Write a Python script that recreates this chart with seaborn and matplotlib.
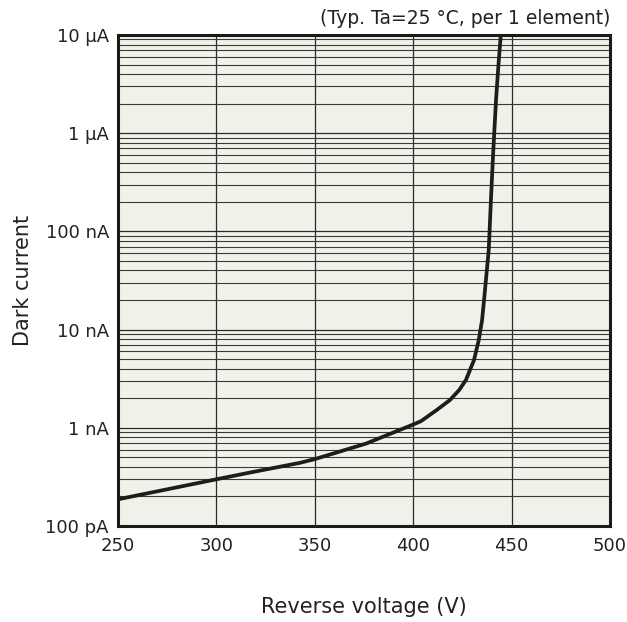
import numpy as np
import pandas as pd
import matplotlib
matplotlib.use('Agg')
import matplotlib.pyplot as plt
import seaborn as sns
from matplotlib.ticker import LogLocator, NullFormatter

# dark current vs reverse voltage
voltage = [250, 300, 317, 342.5, 350, 376, 400, 404, 412, 418.7, 423.4, 426.8,
           430.9, 433.3, 435.0, 436.0, 438.4, 439.5, 440.7, 442.1, 443.3, 444.5]
current = [1.87e-10, 2.99e-10, 3.5e-10, 4.4e-10, 4.8e-10, 6.9e-10, 1.08e-9,
           1.17e-9, 1.52e-9, 1.92e-9, 2.43e-9, 3.07e-9, 4.9e-9, 7.8e-9,
           1.25e-8, 2.0e-8, 6.5e-8, 2.1e-7, 6.7e-7, 2.2e-6, 4.9e-6, 1e-5]

x_ticks = [250, 300, 350, 400, 450, 500]
y_ticks = [1e-10, 1e-9, 1e-8, 1e-7, 1e-6, 1e-5]
y_labels = ['100 pA', '1 nA', '10 nA', '100 nA', '1 µA', '10 µA']

df = pd.DataFrame({'Voltage': voltage, 'Current': current})

sns.set_style('white')
plt.rcParams['font.family'] = ['DejaVu Sans']

fig = plt.figure(figsize=(6.27, 6.22), dpi=100)
ax = fig.add_axes([118/627, 96/622, 492/627, 491/622])
ax.set_facecolor('#f2f1e9')

sns.lineplot(data=df, x='Voltage', y='Current', ax=ax, color='#1e1c1c',
             linewidth=2.7, zorder=5)
ax.lines[0].set_solid_joinstyle('round')

ax.set_yscale('log')
ax.set_xlim(250, 500)
ax.set_ylim(1e-10, 1e-5)

ax.set_xticks(x_ticks)
ax.set_xticklabels([str(v) for v in x_ticks])
ax.set_yticks(y_ticks)
ax.set_yticklabels(y_labels)
ax.yaxis.set_minor_locator(LogLocator(base=10, subs=np.arange(2, 10)))
ax.yaxis.set_minor_formatter(NullFormatter())

ax.grid(True, which='major', axis='both', color='#2a2a2a', linewidth=0.9)
ax.grid(True, which='minor', axis='y', color='#3a3a3a', linewidth=0.8)
ax.set_axisbelow(True)

ax.tick_params(which='both', length=0, labelsize=13, colors='#222222')
ax.tick_params(axis='x', pad=8)
ax.tick_params(axis='y', pad=6.5)

for s in ax.spines.values():
    s.set_color('#1a1a1a')
    s.set_linewidth(2.2)
    s.set_zorder(6)

ax.set_xlabel('Reverse voltage (V)', fontsize=15, color='#222222', labelpad=30)
ax.set_ylabel('Dark current', fontsize=15, color='#222222', labelpad=9)
ax.set_title('(Typ. Ta=25 °C, per 1 element)', loc='right', fontsize=13.5,
             color='#222222', pad=8)

fig.savefig('out.png', dpi=100, facecolor='white')
